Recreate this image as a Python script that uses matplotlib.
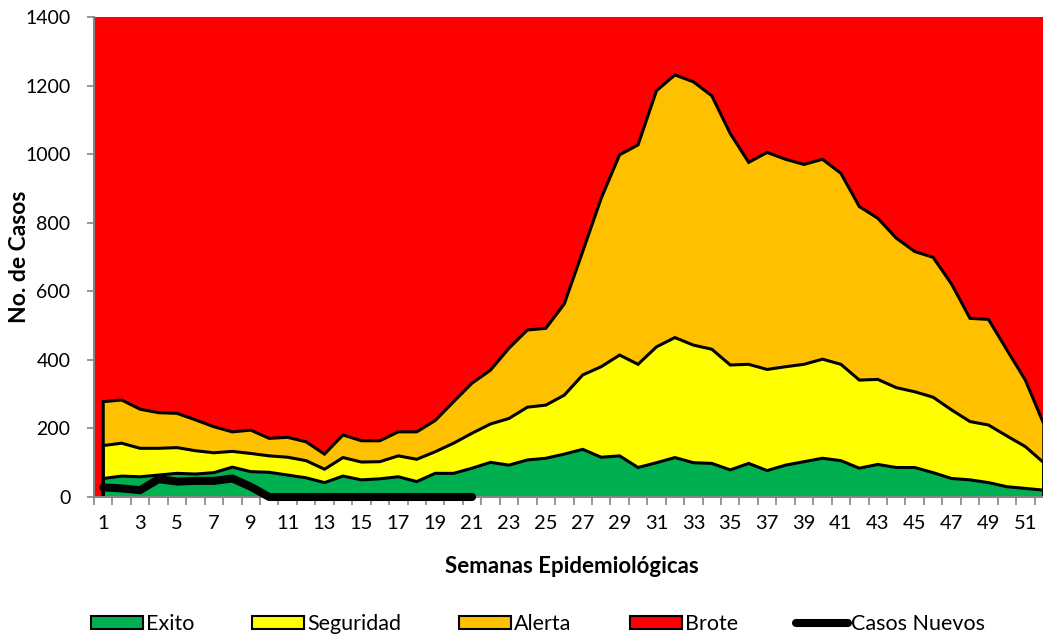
import numpy as np
import matplotlib
matplotlib.use("Agg")
import matplotlib.pyplot as plt
import matplotlib.patches as mpatches
from matplotlib.lines import Line2D

plt.rcParams['font.family'] = ['Lato', 'DejaVu Sans']

semanas = list(range(1, 53))

exito = [54, 61, 59, 64, 69, 67, 71, 87, 74, 72, 64, 56, 42, 61, 50, 53, 59, 45,
         69, 69, 84, 101, 93, 108, 113, 125, 139, 116, 120, 86, 100, 115, 100, 98, 79,
         98, 77, 93, 103, 113, 106, 84, 95, 86, 86, 71, 54, 50, 42, 30, 25, 20]

seguridad = [150, 157, 142, 142, 144, 135, 129, 133, 127, 120, 116, 106, 81, 115, 102, 103, 120, 110,
             132, 157, 186, 213, 229, 262, 268, 297, 356, 380, 414, 387, 438, 465, 443, 431, 385,
             387, 372, 380, 387, 402, 387, 341, 343, 319, 307, 291, 254, 220, 210, 178, 147, 100]

alerta = [278, 283, 256, 246, 244, 225, 205, 190, 195, 171, 174, 161, 125, 181, 164, 164, 190, 190,
          223, 278, 332, 370, 434, 487, 492, 563, 716, 871, 998, 1027, 1185, 1231, 1211, 1170, 1060,
          976, 1005, 985, 970, 985, 944, 847, 813, 755, 716, 699, 621, 521, 518, 429, 341, 213]

brote = [1400] * 52

casos_semanas = list(range(1, 22))
casos_nuevos = [28, 25, 20, 52, 45, 47, 47, 54, 30, 0, 0, 0, 0, 0, 0, 0, 0, 0, 0, 0, 0]

colores = {"Exito": "#00B050", "Seguridad": "#FFFF00", "Alerta": "#FFC000", "Brote": "#FF0000"}

fig = plt.figure(figsize=(10.43, 6.37), dpi=100)
ax = fig.add_axes([94 / 1043, 1 - 497 / 637, 959 / 1043, 480 / 637])

# Brote as gapless columns filling the plot
ax.bar(semanas, brote, width=1.0, color=colores["Brote"], linewidth=0, zorder=1)

x = np.array(semanas)
for nombre, vals in [("Alerta", alerta), ("Seguridad", seguridad), ("Exito", exito)]:
    v = np.array(vals)
    ax.fill_between(x, 0, v, facecolor=colores[nombre], linewidth=0, zorder=2)
    ax.plot(np.r_[x[0], x, x[-1]], np.r_[0, v, 0], color="black", lw=2.2, zorder=3,
            solid_joinstyle="miter")

ax.plot(casos_semanas, casos_nuevos, color="black", lw=5.8, solid_capstyle="round",
        solid_joinstyle="round", zorder=6, clip_on=False)

ax.set_xlim(0.5, 52.5)
ax.set_ylim(0, 1400)
ax.set_yticks(range(0, 1401, 200))
ax.set_xticks(semanas[::2])
ax.set_xticks(np.arange(0.5, 53, 1), minor=True)

gris = "#868686"
for s in ["top", "right"]:
    ax.spines[s].set_visible(False)
for s in ["left", "bottom"]:
    ax.spines[s].set_color(gris)
    ax.spines[s].set_linewidth(1.5)
    ax.spines[s].set_zorder(5)

ax.tick_params(axis="y", direction="out", length=5, width=1.2, color=gris, pad=12,
               labelsize=14)
ax.tick_params(axis="x", which="major", length=0, pad=13, labelsize=14.5)
ax.tick_params(axis="x", which="minor", direction="out", length=6, width=1.2, color=gris)

ax.set_xlabel("Semanas Epidemiológicas", fontsize=16, fontweight="bold")
ax.xaxis.set_label_coords((572 - 94) / 959, -(556 - 497) / 480)
ax.set_ylabel("No. de Casos", fontsize=16.5, fontweight="bold")
ax.yaxis.set_label_coords(-(94 - 30) / 959, 0.5)

handles = [mpatches.Patch(facecolor=colores[n], edgecolor="black", linewidth=1.5)
           for n in ["Exito", "Seguridad", "Alerta", "Brote"]]
handles.append(Line2D([0], [0], color="black", lw=5.8, solid_capstyle="round"))
fig.legend(handles, ["Exito", "Seguridad", "Alerta", "Brote", "Casos Nuevos"],
           loc="center", bbox_to_anchor=(538 / 1043, 1 - 624 / 637), ncol=5,
           frameon=False, fontsize=15.5, handlelength=2.4, handleheight=0.6,
           handletextpad=0.15, columnspacing=2.7)

fig.savefig("out.png", dpi=100)
